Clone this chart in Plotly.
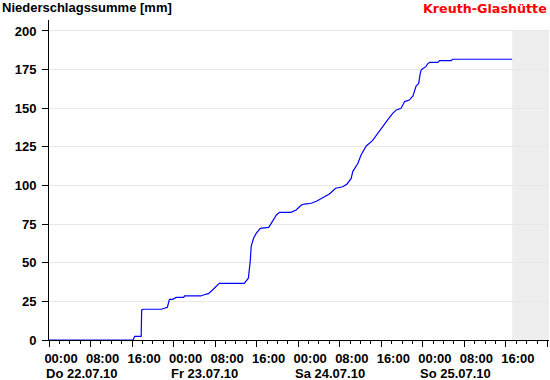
import plotly.graph_objects as go

# ---- data ----
times = [
    "2010-07-22 00:00", "2010-07-22 16:12", "2010-07-22 16:30", "2010-07-22 17:45",
    "2010-07-22 17:51", "2010-07-22 18:12", "2010-07-22 21:39", "2010-07-22 22:03",
    "2010-07-22 22:48", "2010-07-22 23:12", "2010-07-22 23:48", "2010-07-23 00:30",
    "2010-07-23 01:57", "2010-07-23 02:06", "2010-07-23 05:12", "2010-07-23 05:54",
    "2010-07-23 06:42", "2010-07-23 07:30", "2010-07-23 08:15", "2010-07-23 08:48",
    "2010-07-23 13:36", "2010-07-23 14:00", "2010-07-23 14:24", "2010-07-23 14:45",
    "2010-07-23 14:57", "2010-07-23 15:24", "2010-07-23 15:54", "2010-07-23 16:42",
    "2010-07-23 18:18", "2010-07-23 18:48", "2010-07-23 19:48", "2010-07-23 20:24",
    "2010-07-23 22:36", "2010-07-23 23:36", "2010-07-24 00:36", "2010-07-24 01:12",
    "2010-07-24 02:30", "2010-07-24 03:36", "2010-07-24 04:42", "2010-07-24 06:00",
    "2010-07-24 07:12", "2010-07-24 08:36", "2010-07-24 09:24", "2010-07-24 10:12",
    "2010-07-24 10:30", "2010-07-24 11:30", "2010-07-24 12:06", "2010-07-24 13:06",
    "2010-07-24 14:18", "2010-07-24 15:18", "2010-07-24 16:18", "2010-07-24 17:18",
    "2010-07-24 18:12", "2010-07-24 18:54", "2010-07-24 19:48", "2010-07-24 20:30",
    "2010-07-24 21:24", "2010-07-24 22:06", "2010-07-24 22:42", "2010-07-24 23:12",
    "2010-07-24 23:30", "2010-07-24 23:42", "2010-07-25 00:06", "2010-07-25 00:36",
    "2010-07-25 00:54", "2010-07-25 01:18", "2010-07-25 02:54", "2010-07-25 03:12",
    "2010-07-25 05:30", "2010-07-25 05:42", "2010-07-25 17:12",
]
precip_sum = [
    0, 0, 2.4, 2.4,
    19.4, 19.9, 19.9, 20.5,
    21.2, 26.3, 26.3, 27.6,
    27.6, 28.5, 28.5, 29.3,
    30.0, 32.4, 35.0, 36.7,
    36.7, 38.8, 40.0, 50.7,
    60.8, 65.8, 69.0, 72.3,
    72.9, 75.5, 80.9, 82.6,
    82.6, 84.1, 87.4, 88.0,
    88.5, 90.0, 92.1, 94.5,
    98.2, 99.2, 101.0, 104.6,
    109.0, 114.4, 119.7, 125.6,
    129.0, 133.8, 138.5, 142.8,
    146.7, 148.9, 150.0, 154.3,
    155.3, 157.9, 164.4, 166.1,
    172.6, 174.8, 175.9, 176.9,
    178.6, 179.7, 179.7, 180.8,
    180.8, 181.7, 181.7,
]

day_dates = ["2010-07-22", "2010-07-23", "2010-07-24", "2010-07-25"]
day_labels = ["Do 22.07.10", "Fr 23.07.10", "Sa 24.07.10", "So 25.07.10"]
y_ticks = [0, 25, 50, 75, 100, 125, 150, 175, 200]

station = "Kreuth-Glashütte"
y_title = "Niederschlagssumme [mm]"
x_start = "2010-07-22 00:00"
x_end = "2010-07-26 00:18"
future_start = "2010-07-25 17:12"

FONT = "Liberation Sans, Arial, sans-serif"

fig = go.Figure()
fig.add_trace(go.Scatter(
    x=times, y=precip_sum, mode="lines",
    line=dict(color="#0000ff", width=1.2),
    hoverinfo="x+y", showlegend=False,
))

# grey "future" area
fig.add_shape(type="rect", xref="x", yref="y",
              x0=future_start, x1=x_end, y0=0, y1=y_ticks[-1],
              fillcolor="#eeeeee", line=dict(width=0), layer="below")

fig.update_layout(
    width=550, height=380,
    margin=dict(l=49, r=1, t=20, b=40),
    paper_bgcolor="white", plot_bgcolor="white",
    font=dict(family=FONT, size=13, color="black"),
    xaxis=dict(
        type="date", range=[x_start, x_end],
        tickmode="linear", tick0=x_start, dtick=8 * 3600 * 1000,
        tickformat="%H:%M",
        ticks="outside", ticklen=6, tickcolor="black", tickwidth=1,
        minor=dict(dtick=2 * 3600 * 1000, ticks="outside", ticklen=3,
                   tickcolor="black", tickwidth=1, showgrid=False),
        showgrid=False, zeroline=False,
        showline=True, linecolor="black", linewidth=1,
        tickfont=dict(family=FONT, size=13, color="black", weight="bold"),
        ticklabelshift=12,
    ),
    yaxis=dict(
        range=[0, 207.1],
        tickvals=y_ticks,
        ticks="outside", ticklen=6, tickcolor="black", tickwidth=1,
        showgrid=True, gridcolor="#e8e8e8", gridwidth=1,
        zeroline=False,
        showline=True, linecolor="black", linewidth=1,
        tickfont=dict(family=FONT, size=13, color="black", weight="bold"),
        ticklabelstandoff=3,
    ),
)

annotations = [
    dict(text=y_title, xref="paper", yref="paper", x=-49 / 500, y=1 + 12.5 / 320,
         xanchor="left", yanchor="middle", showarrow=False,
         font=dict(family=FONT, size=13, color="black", weight="bold")),
    dict(text=station, xref="paper", yref="paper", x=1, y=1 + 11.5 / 320,
         xanchor="right", yanchor="middle", showarrow=False,
         font=dict(family="DejaVu Sans, Verdana, sans-serif", size=12.7,
                   color="#ff0000", weight="bold")),
]
for d, lab in zip(day_dates, day_labels):
    annotations.append(dict(
        text=lab, xref="x", yref="paper", x=d, y=-33 / 320,
        xanchor="left", yanchor="middle", xshift=-5, showarrow=False,
        font=dict(family=FONT, size=13, color="black", weight="bold")))
fig.update_layout(annotations=annotations)

fig.write_html("out.html",
               config={"displayModeBar": False},
               post_script="document.body.style.margin='0';document.body.style.overflow='hidden';")
